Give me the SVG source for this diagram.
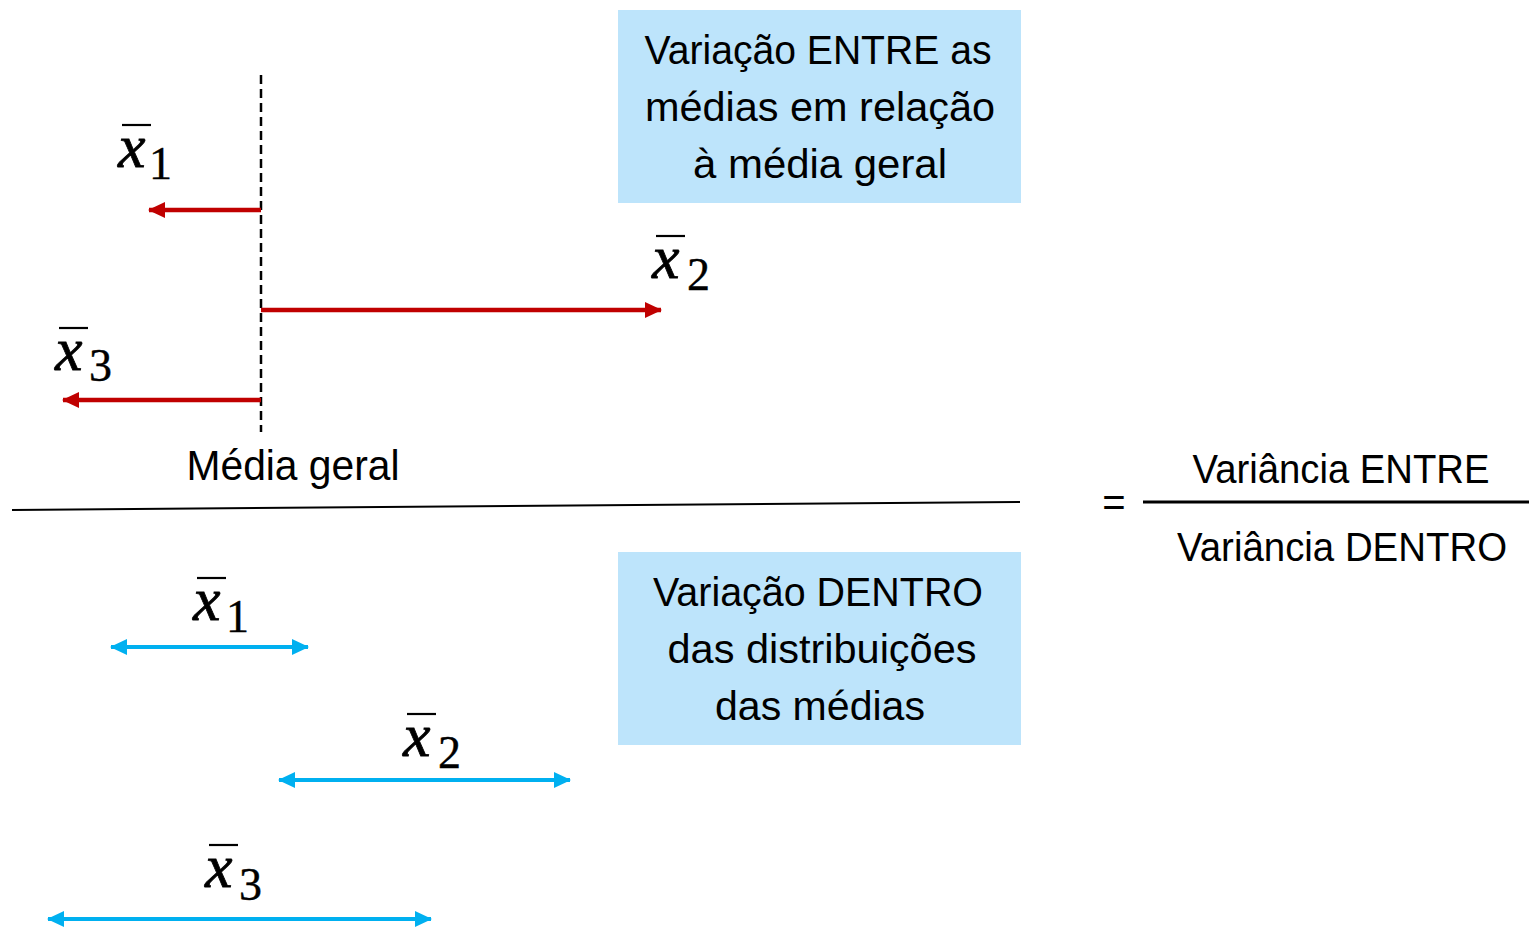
<svg xmlns="http://www.w3.org/2000/svg" width="1529" height="928" viewBox="0 0 1529 928">
<style>
.t{font-family:"Liberation Sans",Arial,sans-serif;font-size:40px;fill:#000;text-anchor:middle}
.mx{font-family:"Liberation Serif","Times New Roman",serif;font-style:italic;font-size:62px;fill:#000;stroke:#000;stroke-width:0.8}
.ms{font-family:"Liberation Serif","Times New Roman",serif;font-size:46px;fill:#000;stroke:#000;stroke-width:0.4}
.bar{stroke:#000;stroke-width:2.2}
.box{fill:#BDE4FB}
.red{stroke:#C00000;stroke-width:4.5;fill:none}
.blue{stroke:#00B0F0;stroke-width:4;fill:none}
</style>
<defs>
<marker id="hr" viewBox="0 0 17 17" markerWidth="17" markerHeight="17" markerUnits="userSpaceOnUse" refX="16" refY="8.5" orient="auto-start-reverse"><path d="M0,0.5 L17,8.5 L0,16.5 z" fill="#C00000"/></marker>
<marker id="hb" viewBox="0 0 17 17" markerWidth="17" markerHeight="17" markerUnits="userSpaceOnUse" refX="16" refY="8.5" orient="auto-start-reverse"><path d="M0,0.5 L17,8.5 L0,16.5 z" fill="#00B0F0"/></marker>
<g id="xbar"><text class="mx" x="0" y="0">x</text><line class="bar" x1="4" y1="-42" x2="33" y2="-42"/></g>
</defs>
<rect width="1529" height="928" fill="#fff"/>

<g id="box-entre">
<rect class="box" x="618" y="10" width="403" height="193"/>
<text class="t" x="818" y="64" textLength="347" lengthAdjust="spacingAndGlyphs">Variação ENTRE as</text>
<text class="t" x="820" y="121" textLength="350" lengthAdjust="spacingAndGlyphs">médias em relação</text>
<text class="t" x="820" y="178" textLength="254" lengthAdjust="spacingAndGlyphs">à média geral</text>
</g>

<g id="box-dentro">
<rect class="box" x="618" y="552" width="403" height="193"/>
<text class="t" x="818" y="606" textLength="330" lengthAdjust="spacingAndGlyphs">Variação DENTRO</text>
<text class="t" x="822" y="663" textLength="309" lengthAdjust="spacingAndGlyphs">das distribuições</text>
<text class="t" x="820" y="720" textLength="210" lengthAdjust="spacingAndGlyphs">das médias</text>
</g>

<g id="media-geral">
<line x1="261" y1="75" x2="261" y2="432" stroke="#000" stroke-width="2.5" stroke-dasharray="9 5"/>
<text x="293" y="480" textLength="213" lengthAdjust="spacingAndGlyphs" style="font-family:'Liberation Sans',Arial,sans-serif;font-size:42px;text-anchor:middle">Média geral</text>
</g>

<g id="labels-top">
<g transform="translate(118,167)"><use href="#xbar"/><text class="ms" x="31" y="12">1</text></g>
<g transform="translate(652,278)"><use href="#xbar"/><text class="ms" x="35" y="12">2</text></g>
<g transform="translate(55,370)"><use href="#xbar"/><text class="ms" x="34" y="11">3</text></g>
</g>

<g id="labels-bottom">
<g transform="translate(193,620)"><use href="#xbar"/><text class="ms" x="33" y="12">1</text></g>
<g transform="translate(403,756)"><use href="#xbar"/><text class="ms" x="35" y="12">2</text></g>
<g transform="translate(205,887)"><use href="#xbar"/><text class="ms" x="34" y="13">3</text></g>
</g>

<g id="connectors">
<line class="red" x1="261" y1="210" x2="149" y2="210" marker-end="url(#hr)"/>
<line class="red" x1="261" y1="310" x2="661" y2="310" marker-end="url(#hr)"/>
<line class="red" x1="261" y1="400" x2="63" y2="400" marker-end="url(#hr)"/>
<line class="blue" x1="111" y1="647" x2="308" y2="647" marker-start="url(#hb)" marker-end="url(#hb)"/>
<line class="blue" x1="279" y1="780" x2="570" y2="780" marker-start="url(#hb)" marker-end="url(#hb)"/>
<line class="blue" x1="48" y1="919" x2="431" y2="919" marker-start="url(#hb)" marker-end="url(#hb)"/>
</g>

<g id="divider">
<line x1="12" y1="510" x2="1020" y2="502" stroke="#000" stroke-width="2"/>
</g>

<g id="formula">
<text x="1114" y="516" style="font-family:'Liberation Sans',Arial,sans-serif;font-size:40px;text-anchor:middle">=</text>
<line x1="1143" y1="502" x2="1529" y2="502" stroke="#000" stroke-width="3"/>
<text class="t" x="1341" y="483" textLength="297" lengthAdjust="spacingAndGlyphs">Variância ENTRE</text>
<text class="t" x="1342" y="561" textLength="330" lengthAdjust="spacingAndGlyphs">Variância DENTRO</text>
</g>
</svg>
